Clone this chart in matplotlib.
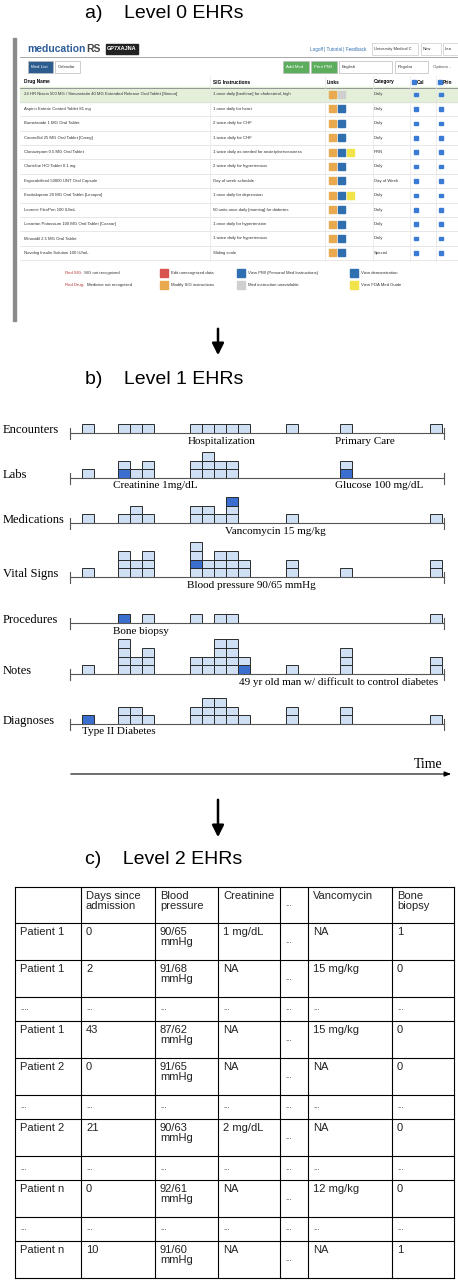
import matplotlib
matplotlib.use("Agg")
import matplotlib.pyplot as plt
from matplotlib.patches import Rectangle

# ---------------- data ----------------
titles = ["a)    Level 0 EHRs", "b)    Level 1 EHRs", "c)    Level 2 EHRs"]

drugs = ["24 HR Niacin 500 MG / Simvastatin 40 MG Extended Release Oral Tablet [Simcor]",
         "Aspirin Enteric Coated Tablet 81 mg", "Bumetanide 1 MG Oral Tablet",
         "Carvedilol 25 MG Oral Tablet [Coreg]", "Clonazepam 0.5 MG Oral Tablet",
         "Clonidine HCl Tablet 0.1 mg", "Ergocalciferol 50000 UNT Oral Capsule",
         "Escitalopram 20 MG Oral Tablet [Lexapro]", "Levemir FlexPen 100 IU/mL",
         "Losartan Potassium 100 MG Oral Tablet [Cozaar]", "Minoxidil 2.5 MG Oral Tablet",
         "Novolog Insulin Solution 100 IU/mL"]
sigs = ["1 once daily [bedtime] for cholesterol, high", "1 once daily for heart",
        "2 twice daily for CHF", "1 twice daily for CHF",
        "1 twice daily as needed for anxiety/nervousness", "2 twice daily for hypertension",
        "Day of week schedule", "1 once daily for depression",
        "50 units once daily [morning] for diabetes", "1 once daily for hypertension",
        "1 twice daily for hypertension", "Sliding scale"]
cats = ["Daily", "Daily", "Daily", "Daily", "PRN", "Daily", "Day of Week", "Daily",
        "Daily", "Daily", "Daily", "Special"]
links = [["o", "g"], ["o", "b"], ["o", "b"], ["o", "b"], ["o", "b", "y"], ["o", "b"],
         ["o", "b"], ["o", "b", "y"], ["o", "b"], ["o", "b"], ["o", "b"], ["o", "b"]]

row_names = ["Encounters", "Labs", "Medications", "Vital Signs", "Procedures", "Notes", "Diagnoses"]
slot_t = [0, 3, 4, 5, 9, 10, 11, 12, 13, 17, 21.5, 29]
counts = {
    "Encounters":  [1, 1, 1, 1, 1, 1, 1, 1, 1, 1, 1, 1],
    "Labs":        [1, 2, 1, 2, 2, 3, 2, 2, 0, 0, 2, 0],
    "Medications": [1, 1, 2, 1, 2, 2, 1, 3, 0, 1, 0, 1],
    "Vital Signs": [1, 3, 2, 3, 4, 2, 3, 3, 2, 2, 1, 2],
    "Procedures":  [0, 1, 0, 1, 1, 0, 1, 1, 0, 0, 0, 1],
    "Notes":       [1, 4, 2, 3, 2, 2, 4, 4, 2, 1, 3, 2],
    "Diagnoses":   [1, 2, 2, 1, 2, 3, 3, 2, 1, 2, 2, 1],
}
highlights = {"Labs": [(1, 0), (10, 0)], "Medications": [(7, 2)], "Vital Signs": [(4, 1)],
              "Procedures": [(1, 0)], "Notes": [(8, 0)], "Diagnoses": [(0, 0)]}
annots = {"Encounters": [(188, "Hospitalization", "left"), (335, "Primary Care", "left")],
          "Labs": [(113, "Creatinine 1mg/dL", "left"), (335, "Glucose 100 mg/dL", "left")],
          "Medications": [(225, "Vancomycin 15 mg/kg", "left")],
          "Vital Signs": [(187, "Blood pressure 90/65 mmHg", "left")],
          "Procedures": [(113, "Bone biopsy", "left")],
          "Notes": [(438, "49 yr old man w/ difficult to control diabetes", "right")],
          "Diagnoses": [(82, "Type II Diabetes", "left")]}
baselines = [433, 478, 523, 577, 623, 674, 724]

tbl_header = ["", "Days since\nadmission", "Blood\npressure", "Creatinine", "...", "Vancomycin", "Bone\nbiopsy"]
tbl_rows = [
    ["Patient 1", "0", "90/65\nmmHg", "1 mg/dL", "...", "NA", "1"],
    ["Patient 1", "2", "91/68\nmmHg", "NA", "...", "15 mg/kg", "0"],
    ["....", "...", "...", "...", "...", "...", "..."],
    ["Patient 1", "43", "87/62\nmmHg", "NA", "...", "15 mg/kg", "0"],
    ["Patient 2", "0", "91/65\nmmHg", "NA", "...", "NA", "0"],
    ["...", "...", "...", "...", "...", "...", "..."],
    ["Patient 2", "21", "90/63\nmmHg", "2 mg/dL", "...", "NA", "0"],
    ["...", "...", "...", "...", "...", "...", "..."],
    ["Patient n", "0", "92/61\nmmHg", "NA", "...", "12 mg/kg", "0"],
    ["...", "...", "...", "...", "...", "...", "..."],
    ["Patient n", "10", "91/60\nmmHg", "NA", "...", "NA", "1"],
]

# ---------------- figure ----------------
fig = plt.figure(figsize=(4.58, 12.8), dpi=100)
ax = fig.add_axes([0, 0, 1, 1])
ax.set_xlim(0, 458)
ax.set_ylim(1280, 0)
ax.axis("off")

sans = "Liberation Sans"
serif = "Liberation Serif"

for y, t in zip([13, 380, 860], titles):
    ax.text(85, y, t, fontsize=14, family=sans, va="center", ha="left")

for y0, y1 in [(326, 358), (797, 840)]:
    ax.annotate("", xy=(218, y1), xytext=(218, y0),
                arrowprops=dict(arrowstyle="-|>,head_width=0.35,head_length=0.7", lw=1.8, color="black"))

# ---------------- panel a ----------------
ax.add_patch(Rectangle((13, 38), 3, 283, color="#8a8a8a"))
ax.text(27, 49, "meducation", fontsize=7.5, color="#2f5f9a", weight="bold", family=sans, va="center")
ax.text(86, 49, "RS", fontsize=7.5, color="#444", weight="bold", family=sans, va="center")
ax.add_patch(Rectangle((106, 44), 32, 10, color="#222"))
ax.text(122, 49, "GP7XAJNA", fontsize=4, color="white", ha="center", va="center", family=sans, weight="bold")
ax.text(310, 49, "Logoff | Tutorial | Feedback", fontsize=3.3, color="#2f6fb0", va="center", family=sans)
for x0, w, t in [(372, 46, "University Medical C"), (421, 20, "New"), (443, 20, "Lea")]:
    ax.add_patch(Rectangle((x0, 43), w, 12, fc="white", ec="#ccc", lw=0.5))
    ax.text(x0 + 2, 49, t, fontsize=3.0, va="center", family=sans, color="#333")
ax.plot([20, 458], [57, 57], color="#999", lw=0.6)
for x0, w, t, fc, tc in [(28, 25, "Med List", "#2d5d8e", "white"), (55, 25, "Calendar", "white", "#333"),
                         (283, 26, "Add Med", "#5cad5c", "white"), (311, 26, "Print PMI", "#5cad5c", "white"),
                         (339, 53, "English", "white", "#333"), (395, 33, "Regular", "white", "#333")]:
    ax.add_patch(Rectangle((x0, 61), w, 12, fc=fc, ec="#bbb", lw=0.5))
    ax.text(x0 + 3, 67, t, fontsize=3.2, va="center", family=sans, color=tc)
ax.text(433, 67, "Options -", fontsize=3.2, va="center", family=sans, color="#555")
colx = [24, 213, 327, 374, 412, 438]
for x, h in zip(colx, ["Drug Name", "SIG Instructions", "Links", "Category", "Cal", "Prin"]):
    ax.text(x + (5 if h in ("Cal", "Prin") else 0), 82, h, fontsize=3.4, weight="bold", va="center", family=sans)
for x in [412, 438]:
    ax.add_patch(Rectangle((x, 80), 3.5, 3.5, color="#3a7bd5"))
ax.plot([20, 458], [88, 88], color="#888", lw=0.6)
rh = 14.4
icol = {"o": "#e8a94f", "b": "#2f6fb0", "g": "#cfcfcf", "y": "#f1e44b"}
for i, (d, s, c, lk) in enumerate(zip(drugs, sigs, cats, links)):
    yc = 94.5 + i * rh
    if i == 0:
        ax.add_patch(Rectangle((20, yc - rh / 2), 438, rh, color="#e3efd9"))
    ax.plot([20, 458], [yc + rh / 2, yc + rh / 2], color="#ddd", lw=0.5)
    ax.text(colx[0], yc, d, fontsize=3.1, va="center", family=sans, color="#333")
    ax.text(colx[1], yc, s, fontsize=3.1, va="center", family=sans, color="#333")
    ax.text(colx[3], yc, c, fontsize=3.1, va="center", family=sans, color="#333")
    for k, l in enumerate(lk):
        ax.add_patch(Rectangle((329 + k * 9, yc - 3.5), 7, 7, color=icol[l]))
    for x in [414, 439]:
        ax.add_patch(Rectangle((x, yc - 1.8), 3.6, 3.6, color="#3a7bd5"))
for x in [210, 325, 373, 410, 436]:
    ax.plot([x, x], [76, 261], color="#e5e5e5", lw=0.5)
leg = [(65, 273, None, "Red SIG:", "SIG not recognized"),
       (65, 285, None, "Red Drug:", "Medicine not recognized"),
       (160, 273, "#d9534f", "", "Edit unrecognized data"),
       (160, 285, "#e8a94f", "", "Modify SIG instructions"),
       (237, 273, "#2f6fb0", "", "View PMI (Personal Med Instructions)"),
       (237, 285, "#cfcfcf", "", "Med instruction unavailable"),
       (350, 273, "#2f6fb0", "", "View demonstration"),
       (350, 285, "#f1e44b", "", "View FDA Med Guide")]
for x, y, c, red, t in leg:
    if c:
        ax.add_patch(Rectangle((x, y - 4), 8, 8, color=c))
        ax.text(x + 11, y, t, fontsize=3.1, va="center", family=sans, color="#333")
    else:
        ax.text(x, y, red, fontsize=3.1, va="center", family=sans, color="#b33")
        ax.text(x + (19 if red == "Red SIG:" else 22), y, t, fontsize=3.1, va="center", family=sans, color="#333")

# ---------------- panel b ----------------
bw, bh = 12, 8.7
x0t, xs = 82, 12.0
for name, yb in zip(row_names, baselines):
    ax.text(3, yb - 3, name, fontsize=9, family=serif, va="center", ha="left")
    ax.plot([70, 444], [yb, yb], color="#555", lw=0.8)
    ax.plot([70, 70], [yb - 5, yb + 6], color="#555", lw=0.8)
    ax.plot([444, 444], [yb - 5, yb + 6], color="#555", lw=0.8)
    hl = highlights.get(name, [])
    for si, (t, n) in enumerate(zip(slot_t, counts[name])):
        x = x0t + t * xs
        for lev in range(n):
            fc = "#3a6fd0" if (si, lev) in hl else "#cfe0f4"
            ax.add_patch(Rectangle((x, yb - (lev + 1) * bh), bw, bh, fc=fc, ec="#2a2a2a", lw=0.7))
    for x, t, ha in annots[name]:
        ax.text(x, yb + 8, t, fontsize=8, family=serif, ha=ha, va="center")
ax.annotate("", xy=(454, 774), xytext=(68, 774),
            arrowprops=dict(arrowstyle="-|>,head_width=0.15,head_length=0.4", lw=0.8, color="black"))
ax.text(442, 765, "Time", fontsize=10, family=serif, ha="right", va="center")

# ---------------- panel c ----------------
cx = [15, 81, 155, 218, 280, 308, 392, 454]
heights = [36] + [37 if not r[0].startswith(".") else 24 for r in tbl_rows]
ys = [887]
for h in heights:
    ys.append(ys[-1] + h)
for x in cx:
    ax.plot([x, x], [ys[0], ys[-1]], color="black", lw=0.8)
for y in ys:
    ax.plot([cx[0], cx[-1]], [y, y], color="black", lw=0.8)
for r, row in enumerate([tbl_header] + tbl_rows):
    for c, txt in enumerate(row):
        dots = txt.startswith(".")
        ax.text(cx[c] + 5, ys[r] + (heights[r] / 2 if dots else 4), txt,
                fontsize=5.5 if dots else 8, family=sans, va="center" if dots else "top",
                ha="left", linespacing=1.05, color="#222")

fig.savefig("out.png", dpi=100)
